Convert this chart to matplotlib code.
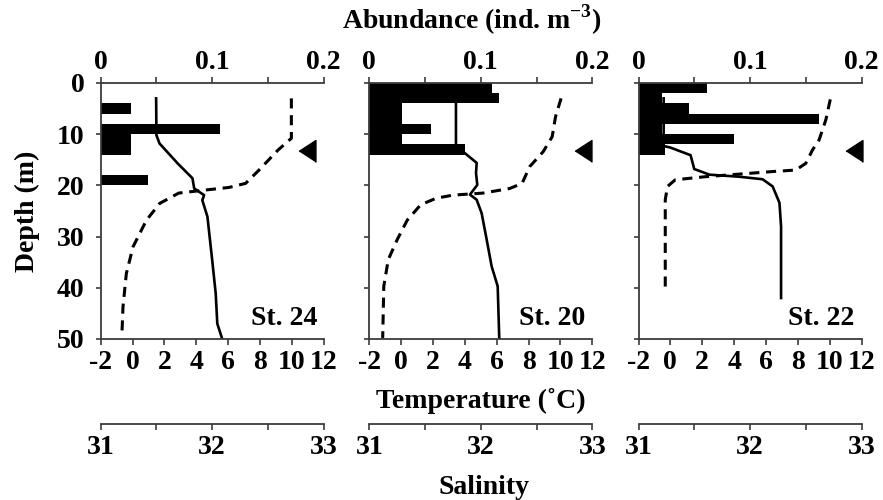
import matplotlib
matplotlib.use("Agg")
import matplotlib.pyplot as plt

plt.rcParams.update({
    "font.family": "Liberation Serif",
    "font.weight": "bold",
    "font.size": 20,
    "mathtext.fontset": "custom",
    "mathtext.rm": "Liberation Serif:bold",
    "mathtext.bf": "Liberation Serif:bold",
    "axes.unicode_minus": False,
})

# ---- data -------------------------------------------------------------
STATIONS = ["St. 24", "St. 20", "St. 22"]

# abundance per 2 m depth bin (bin top in m, ind. m-3)
BIN_TOP = [
    [4, 8, 10, 12, 18],
    [0, 2, 4, 6, 8, 10, 12],
    [0, 2, 4, 6, 8, 10, 12],
]
ABUND = [
    [0.027, 0.107, 0.027, 0.027, 0.042],
    [0.110, 0.116, 0.029, 0.029, 0.055, 0.029, 0.086],
    [0.061, 0.021, 0.045, 0.162, 0.021, 0.086, 0.024],
]

# temperature profiles (depth m, deg C)
TEMP_DEPTH = [
    [3, 10.2, 11.8, 15.7, 18.6, 20.6, 21.9, 22.9, 26.1, 34.6, 41.1, 47, 50],
    [3, 12, 13.7, 15.6, 17.6, 19.9, 21.8, 22.8, 25.4, 30.6, 35.8, 39.7, 50],
    [3, 12.3, 12.6, 14.1, 16.8, 17.9, 18.3, 18.8, 20.2, 23.4, 28, 42],
]
TEMP = [
    [1.48, 1.5, 1.69, 2.83, 3.76, 3.87, 4.49, 4.38, 4.70, 5.0, 5.22, 5.32, 5.63],
    [3.44, 3.44, 4.0, 4.74, 4.70, 4.78, 4.32, 4.74, 5.05, 5.37, 5.68, 6.06, 6.16],
    [-0.42, -0.42, -0.01, 1.27, 1.50, 2.45, 4.30, 5.79, 6.42, 6.85, 6.95, 6.95],
]

# salinity profiles (depth m, psu)
SAL_DEPTH = [
    [3, 10.8, 13.1, 17, 19.6, 20.4, 20.9, 21.5, 23.5, 26.8, 32, 37.2, 43.7, 49.2],
    [3, 6.6, 10.5, 13.4, 16.3, 19.6, 20.6, 21.5, 21.9, 22.5, 23.8, 26.8, 30.6,
     34.5, 39.7, 49.8],
    [3.2, 7.2, 11.1, 13.1, 15.7, 17.0, 17.3, 17.8, 18.3, 18.9, 20.2, 22.8, 40.4],
]
SAL = [
    [32.71, 32.71, 32.59, 32.42, 32.30, 32.15, 31.94, 31.70, 31.53, 31.41,
     31.29, 31.23, 31.20, 31.19],
    [32.72, 32.67, 32.64, 32.56, 32.44, 32.37, 32.26, 32.02, 31.75, 31.60,
     31.46, 31.34, 31.25, 31.17, 31.13, 31.12],
    [32.72, 32.68, 32.62, 32.56, 32.50, 32.41, 32.20, 31.90, 31.60, 31.33,
     31.26, 31.24, 31.24],
]

# arrowhead marking the sampling depth
MARK_DEPTH = [13.2, 13.2, 13.2]
MARK_ABUND = [0.185, 0.192, 0.193]

DEPTH_TICKS = [0, 10, 20, 30, 40, 50]
TEMP_TICKS = [-2, 0, 2, 4, 6, 8, 10, 12]
TEMP_LABELS = ["-2", "0", "2", "4", "6", "8", "10", "12"]
ABUND_TICKS = [0, 0.1, 0.2]
ABUND_LABELS = ["0", "0.1", "0.2"]
SAL_TICKS = [31, 32, 33]
SAL_LABELS = ["31", "32", "33"]

# ---- layout (pixels) ---------------------------------------------------
W, H = 883, 500
LEFTS = [100.7, 369.3, 638.5]
PW = 223
TOP, BOT = 83, 339
SPINE_C = "#3c3c3c"
TRI = [(-0.77, 0), (0.77, 1), (0.77, -1)]

fig = plt.figure(figsize=(W / 100, H / 100), dpi=100)


def style_x(axis_obj, ax, pos, ticks, labels, minor):
    axis_obj.set_ticks(ticks)
    axis_obj.set_ticklabels(labels)
    axis_obj.set_ticks(minor, minor=True)
    if pos == "top":
        axis_obj.tick_top()
    else:
        axis_obj.tick_bottom()
    ax.tick_params(axis="x", which="both", direction="out", length=4,
                   width=1.2, color=SPINE_C,
                   pad=1.5 if pos == "top" else 4)


for i in range(3):
    ax = fig.add_axes([LEFTS[i] / W, (H - BOT) / H, PW / W, (BOT - TOP) / H])

    # abundance bars + depth marker
    ax.barh([t + 1 for t in BIN_TOP[i]], ABUND[i], height=2, left=0,
            color="black", linewidth=0, align="center")
    ax.plot(MARK_ABUND[i], MARK_DEPTH[i], marker=TRI, ms=15.8,
            color="black", linestyle="none", clip_on=False)
    ax.set_xlim(0, 0.2)
    ax.set_ylim(50, 0)

    ax_t = ax.twiny()
    ax_s = ax.twiny()

    # temperature (solid) and salinity (dashed)
    ax_t.plot(TEMP[i], TEMP_DEPTH[i], color="black", lw=1.9)
    ax_t.set_xlim(-2, 12)
    ax_s.plot(SAL[i], SAL_DEPTH[i], color="black", lw=2.2,
              dashes=(3.3, 2.2), dash_capstyle="butt")
    ax_s.set_xlim(31, 33)

    style_x(ax.xaxis, ax, "top", ABUND_TICKS, ABUND_LABELS, [0.05, 0.15])
    style_x(ax_t.xaxis, ax_t, "bottom", TEMP_TICKS, TEMP_LABELS, [])
    style_x(ax_s.xaxis, ax_s, "bottom", SAL_TICKS, SAL_LABELS, [31.5, 32.5])

    ax.set_yticks(DEPTH_TICKS)
    if i == 0:
        ax.set_yticklabels([str(d) for d in DEPTH_TICKS])
    else:
        ax.set_yticklabels([])
    ax.tick_params(axis="y", direction="out", length=3.5, width=1.2,
                   color=SPINE_C, pad=8)

    for a in (ax, ax_t, ax_s):
        for s in a.spines.values():
            s.set_visible(False)
            s.set_color(SPINE_C)
            s.set_linewidth(1.3)
    ax.spines["left"].set_visible(True)
    ax.spines["top"].set_visible(True)
    ax_t.spines["bottom"].set_visible(True)
    ax_s.spines["bottom"].set_visible(True)
    ax_s.spines["bottom"].set_position(("outward", (424 - BOT) * 0.72))

    ax_s.text(0.97, 0.055, STATIONS[i], transform=ax_s.transAxes,
              ha="right", va="baseline")

fig.text(472 / W, 1 - 29 / H, r"Abundance (ind. m$^{-3}$)",
         ha="center", va="baseline")
fig.text(481 / W, 1 - 401 / H, "Temperature (\u02daC)", ha="center",
         va="center")
fig.text(484 / W, 1 - 488 / H, "Salinity", ha="center", va="center")
fig.text(27 / W, 1 - 211 / H, "Depth (m)", rotation=90, ha="center",
         va="center")

fig.savefig("out.png", dpi=100)
